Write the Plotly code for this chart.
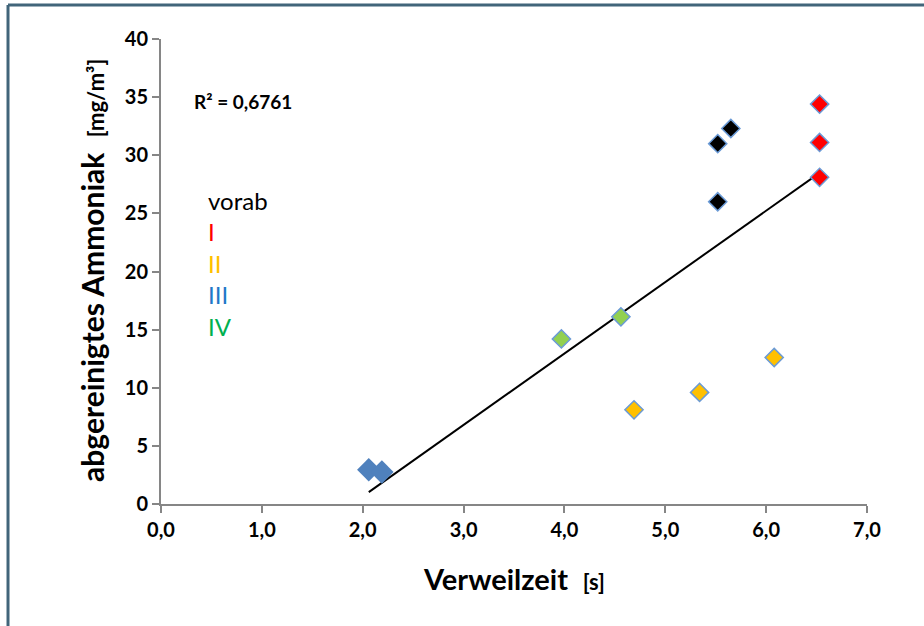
import numpy as np
import plotly.graph_objects as go

# ---- data ----
vorab_x = [5.52, 5.65, 5.52]
vorab_y = [31.0, 32.3, 26.0]
grp1_x = [6.53, 6.53, 6.53]
grp1_y = [34.4, 31.1, 28.1]
grp2_x = [4.69, 5.34, 6.08]
grp2_y = [8.1, 9.6, 12.6]
grp3_x = [2.06, 2.19]
grp3_y = [2.95, 2.75]
grp4_x = [3.97, 4.56]
grp4_y = [14.2, 16.1]

legend_labels = ["vorab", "I", "II", "III", "IV"]
legend_colors = ["#000000", "#FF0000", "#FFC000", "#1F78C8", "#00B050"]
r2_text = "R² = 0,6761"

x_ticks = [0, 1, 2, 3, 4, 5, 6, 7]
x_ticklabels = ["0,0", "1,0", "2,0", "3,0", "4,0", "5,0", "6,0", "7,0"]
y_ticks = [0, 5, 10, 15, 20, 25, 30, 35, 40]

FONT = "Lato"
outline = "#6A9AD6"

fig = go.Figure()

def add_pts(xs, ys, color, size=14, line_color=outline, lw=1.5):
    fig.add_trace(go.Scatter(
        x=xs, y=ys, mode="markers",
        marker=dict(symbol="diamond", size=size, color=color,
                    line=dict(color=line_color, width=lw)),
        showlegend=False, hoverinfo="x+y"))

# trendline from linear regression of all points
all_x = np.array(vorab_x + grp1_x + grp2_x + grp3_x + grp4_x)
all_y = np.array(vorab_y + grp1_y + grp2_y + grp3_y + grp4_y)
slope, intercept = np.polyfit(all_x, all_y, 1)
tx = np.array([all_x.min(), all_x.max()])
fig.add_trace(go.Scatter(x=tx, y=slope * tx + intercept, mode="lines",
                         line=dict(color="black", width=2),
                         showlegend=False, hoverinfo="skip"))

add_pts(grp3_x, grp3_y, "#4F81BD", size=18, line_color="#4F81BD", lw=0)
add_pts(grp4_x, grp4_y, "#92D050")
add_pts(grp2_x, grp2_y, "#FFC000")
add_pts(vorab_x, vorab_y, "#000000")
add_pts(grp1_x, grp1_y, "#FF0000")

annotations = []
# R² label
annotations.append(dict(x=0.31, y=34.6, xref="x", yref="y", text="<b>" + r2_text + "</b>",
                        showarrow=False, xanchor="left", yanchor="middle",
                        font=dict(family=FONT, size=19, color="black")))
# manual legend text
leg_y = [26.1, 23.4, 20.7, 18.0, 15.3]
for lab, col, yy in zip(legend_labels, legend_colors, leg_y):
    annotations.append(dict(x=0.45, y=yy, xref="x", yref="y", text=lab,
                            showarrow=False, xanchor="left", yanchor="middle",
                            font=dict(family=FONT, size=24, color=col)))
# axis titles
annotations.append(dict(x=-0.098, y=0.503, xref="paper", yref="paper", textangle=-90,
                        text="<b>abgereinigtes Ammoniak</b>  <b><span style='font-size:22px'>[mg/m³]</span></b>",
                        showarrow=False, xanchor="center", yanchor="middle",
                        font=dict(family=FONT, size=30, color="black")))
annotations.append(dict(x=0.5, y=-0.16, xref="paper", yref="paper",
                        text="<b>Verweilzeit</b>  <b><span style='font-size:22px'>[s]</span></b>",
                        showarrow=False, xanchor="center", yanchor="middle",
                        font=dict(family=FONT, size=29, color="black")))

axis_common = dict(showgrid=False, zeroline=False, showline=True, linecolor="#868686",
                   linewidth=2, ticks="outside", ticklen=7, tickwidth=2, tickcolor="#868686",
                   tickfont=dict(family=FONT, size=20, color="black"))

border = dict(color="#41657A", width=3)
fig.update_layout(
    width=924, height=626,
    margin=dict(l=161, r=57, t=39, b=122),
    paper_bgcolor="white", plot_bgcolor="white",
    xaxis=dict(range=[0, 7], tickvals=x_ticks, ticktext=["<b>%s</b>" % t for t in x_ticklabels],
               **axis_common),
    yaxis=dict(range=[0, 40], tickvals=y_ticks, ticktext=["<b>%d</b>" % t for t in y_ticks],
               **axis_common),
    annotations=annotations,
    shapes=[
        dict(type="line", xref="paper", yref="paper", x0=-0.2167, x1=-0.2167,
             y0=-0.4, y1=1.0731, line=border, layer="below"),
        dict(type="line", xref="paper", yref="paper", x0=-0.2167, x1=1.2,
             y0=1.0731, y1=1.0731, line=border, layer="below"),
    ],
)

fig.write_html("out.html", config={"displayModeBar": False},
               post_script="document.body.style.margin='0';document.body.style.overflow='hidden';")
